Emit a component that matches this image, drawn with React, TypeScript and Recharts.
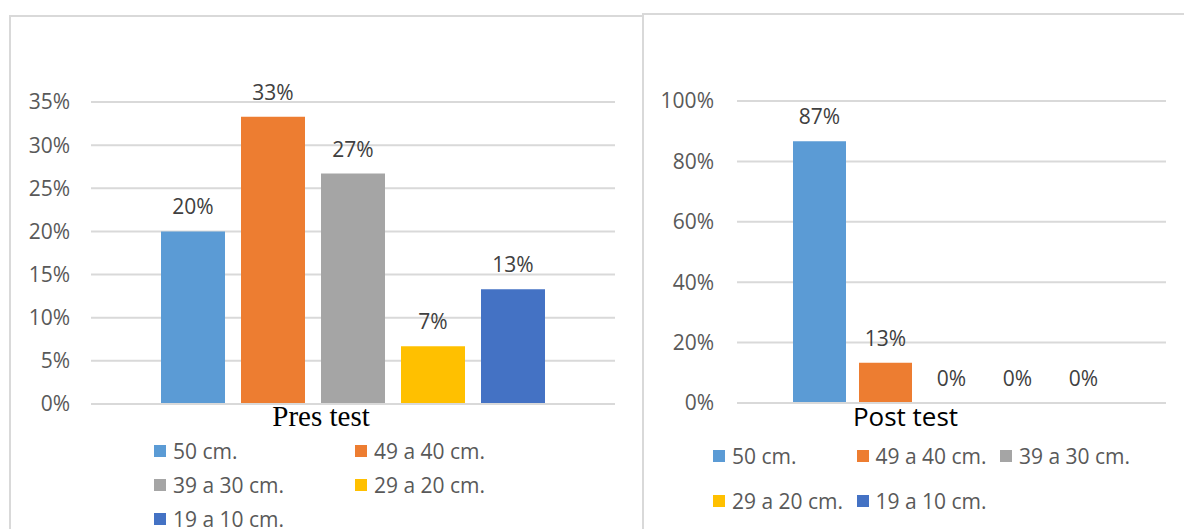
import React from 'react';
import { BarChart, Bar, XAxis, YAxis, CartesianGrid, LabelList } from 'recharts';

const SERIES = ['50 cm.', '49 a 40 cm.', '39 a 30 cm.', '29 a 20 cm.', '19 a 10 cm.'];
const COLORS = ['#5B9BD5', '#ED7D31', '#A5A5A5', '#FFC000', '#4472C4'];

const PRE_CATEGORY = 'Pres test';
const PRE_VALUES = [0.2, 0.333, 0.267, 0.067, 0.133];
const PRE_TICKS = [0, 0.05, 0.1, 0.15, 0.2, 0.25, 0.3, 0.35];

const POST_CATEGORY = 'Post test';
const POST_VALUES = [0.867, 0.133, 0, 0, 0];
const POST_TICKS = [0, 0.2, 0.4, 0.6, 0.8, 1];

const FONT = '"Open Sans", "Noto Sans", sans-serif';
const GRID = '#d9d9d9';

const toRow = (name: string, values: number[]) => {
  const row: { [key: string]: string | number } = { name };
  values.forEach((v, i) => {
    row[`s${i}`] = v;
  });
  return row;
};

const pct = (v: number) => `${Math.round(v * 100)}%`;

interface TickProps {
  x?: number;
  y?: number;
  payload?: { value: string };
}

const makeTick = (dx: number, dy: number, family: string, size: number) => (props: TickProps) => (
  <text
    x={(props.x || 0) + dx}
    y={props.y}
    dy={dy}
    textAnchor="middle"
    fontFamily={family}
    fontSize={size}
    fill="#000"
  >
    {props.payload ? props.payload.value : ''}
  </text>
);

interface LegendProps {
  left: number;
  top: number; // centre of the first row
  cols: number;
  colWidth: number;
  rowHeight: number;
}

const HtmlLegend: React.FC<LegendProps> = ({ left, top, cols, colWidth, rowHeight }) => (
  <div style={{ position: 'absolute', left, top, fontFamily: FONT, fontSize: 21, color: '#595959' }}>
    {SERIES.map((name, i) => (
      <div
        key={name}
        style={{
          position: 'absolute',
          left: (i % cols) * colWidth,
          top: Math.floor(i / cols) * rowHeight - 10,
          height: 20,
          lineHeight: '20px',
          display: 'flex',
          alignItems: 'center',
          whiteSpace: 'nowrap',
        }}
      >
        <span style={{ width: 12, height: 12, background: COLORS[i], marginRight: 7, display: 'inline-block' }} />
        {name}
      </div>
    ))}
  </div>
);

interface PanelProps {
  category: string;
  values: number[];
  ticks: number[];
  width: number;
  margin: { top: number; right: number; bottom: number; left: number };
  yWidth: number;
  tickMargin: number;
  barSize: number;
  barGap: number;
  tick: (props: TickProps) => React.ReactElement;
}

const Panel: React.FC<PanelProps> = ({ category, values, ticks, width, margin, yWidth, tickMargin, barSize, barGap, tick }) => {
  const data = [toRow(category, values)];
  return (
    <BarChart width={width} height={529} data={data} margin={margin} barSize={barSize} barGap={barGap}>
      <CartesianGrid vertical={false} stroke={GRID} strokeWidth={2} />
      <XAxis
        dataKey="name"
        height={40}
        tickLine={false}
        tickMargin={0}
        axisLine={{ stroke: GRID, strokeWidth: 2 }}
        tick={tick}
      />
      <YAxis
        width={yWidth}
        domain={[ticks[0], ticks[ticks.length - 1]]}
        ticks={ticks}
        tickFormatter={pct}
        axisLine={false}
        tickLine={false}
        tickMargin={tickMargin}
        tick={{ fill: '#595959', fontSize: 21, fontFamily: FONT }}
      />
      {SERIES.map((name, i) => (
        <Bar key={name} dataKey={`s${i}`} name={name} fill={COLORS[i]} minPointSize={0.01} isAnimationActive={false}>
          <LabelList
            dataKey={`s${i}`}
            position="top"
            offset={17}
            formatter={(v: number) => pct(v)}
            style={{ fill: '#404040', fontSize: 21, fontFamily: FONT }}
          />
        </Bar>
      ))}
    </BarChart>
  );
};

export default function App() {
  return (
    <div style={{ position: 'absolute', left: 0, top: 0, width: 1184, height: 529, overflow: 'hidden', background: '#fff' }}>
      <div style={{ position: 'absolute', left: 9, top: 15, width: 635, height: 560, border: `2px solid ${GRID}`, boxSizing: 'border-box' }} />
      <div style={{ position: 'absolute', left: 642, top: 13, width: 600, height: 560, border: `2px solid ${GRID}`, boxSizing: 'border-box' }} />

      <div style={{ position: 'absolute', left: 0, top: 0 }}>
        <Panel
          category={PRE_CATEGORY}
          values={PRE_VALUES}
          ticks={PRE_TICKS}
          width={640}
          margin={{ top: 102, right: 25, bottom: 85, left: 41 }}
          yWidth={50}
          tickMargin={15}
          barSize={64}
          barGap={16}
          tick={makeTick(-32, 16, '"Liberation Serif", "Times New Roman", serif', 29)}
        />
      </div>
      <HtmlLegend left={154} top={451} cols={2} colWidth={201} rowHeight={34} />

      <div style={{ position: 'absolute', left: 643, top: 0 }}>
        <Panel
          category={POST_CATEGORY}
          values={POST_VALUES}
          ticks={POST_TICKS}
          width={541}
          margin={{ top: 101, right: 18, bottom: 86, left: 34 }}
          yWidth={60}
          tickMargin={17}
          barSize={53}
          barGap={13}
          tick={makeTick(-46, 17, FONT, 26)}
        />
      </div>
      <HtmlLegend left={713} top={456} cols={3} colWidth={143.5} rowHeight={45} />
    </div>
  );
}
